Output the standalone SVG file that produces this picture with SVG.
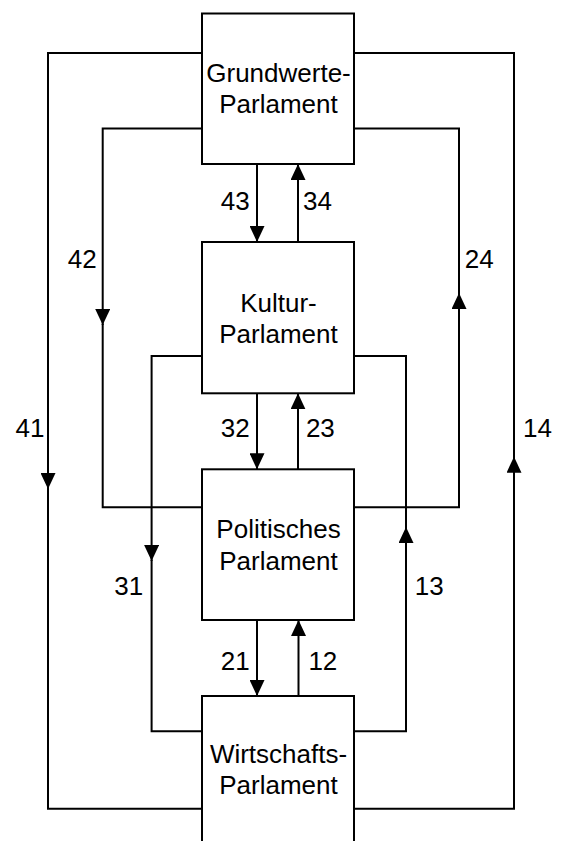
<svg xmlns="http://www.w3.org/2000/svg" width="563" height="841" viewBox="0 0 563 841">
<style>
.box{fill:#fff;stroke:#000;stroke-width:2}
.ln{fill:none;stroke:#000;stroke-width:2}
.t{font-family:"Liberation Sans",Arial,sans-serif;font-size:26px;fill:#000}
.c{text-anchor:middle}
</style>
<defs>
<marker id="ah" viewBox="0 0 16 15" refX="16" refY="7.5" markerWidth="16" markerHeight="15" markerUnits="userSpaceOnUse" orient="auto">
<path d="M0,0 L16,7.5 L0,15 Z" fill="#000"/>
</marker>
</defs>
<g id="connectors">
<!-- 41 -->
<path class="ln" d="M202 53 H48 V489" marker-end="url(#ah)"/>
<path class="ln" d="M48 488 V808.7 H202"/>
<!-- 14 -->
<path class="ln" d="M354 808.7 H514 V456.7" marker-end="url(#ah)"/>
<path class="ln" d="M514 458 V53 H354"/>
<!-- 42 -->
<path class="ln" d="M202 128.5 H102.7 V325" marker-end="url(#ah)"/>
<path class="ln" d="M102.7 324 V507.3 H202"/>
<!-- 24 -->
<path class="ln" d="M354 507.3 H459 V293" marker-end="url(#ah)"/>
<path class="ln" d="M459 294 V128.5 H354"/>
<!-- 31 -->
<path class="ln" d="M202 356 H151.6 V561" marker-end="url(#ah)"/>
<path class="ln" d="M151.6 560 V731.3 H202"/>
<!-- 13 -->
<path class="ln" d="M354 731.3 H406 V527" marker-end="url(#ah)"/>
<path class="ln" d="M406 528 V356 H354"/>
<!-- 43 / 34 -->
<path class="ln" d="M257 164 V242" marker-end="url(#ah)"/>
<path class="ln" d="M298 242 V164" marker-end="url(#ah)"/>
<!-- 32 / 23 -->
<path class="ln" d="M257 393.3 V469.3" marker-end="url(#ah)"/>
<path class="ln" d="M298 469.3 V393.3" marker-end="url(#ah)"/>
<!-- 21 / 12 -->
<path class="ln" d="M257 620 V696" marker-end="url(#ah)"/>
<path class="ln" d="M298.5 696 V620" marker-end="url(#ah)"/>
<text class="t" x="220.7" y="209.5">43</text>
<text class="t" x="303" y="209.5">34</text>
<text class="t" x="67.8" y="268">42</text>
<text class="t" x="464.8" y="268">24</text>
<text class="t" x="220.7" y="437">32</text>
<text class="t" x="305.9" y="437">23</text>
<text class="t" x="15.5" y="437">41</text>
<text class="t" x="523" y="437">14</text>
<text class="t" x="114.3" y="595">31</text>
<text class="t" x="414.7" y="595">13</text>
<text class="t" x="220.7" y="670">21</text>
<text class="t" x="308.4" y="670">12</text>
</g>
<g id="grundwerte">
<rect class="box" x="202" y="13.5" width="152" height="150.5"/>
<text class="t c" x="278.5" y="81.7">Grundwerte-</text>
<text class="t c" x="278.5" y="113.3">Parlament</text>
</g>
<g id="kultur">
<rect class="box" x="202" y="242" width="152" height="151.3"/>
<text class="t c" x="278.5" y="311.7">Kultur-</text>
<text class="t c" x="278.5" y="343">Parlament</text>
</g>
<g id="politisch">
<rect class="box" x="202" y="469.3" width="152" height="150.7"/>
<text class="t c" x="278.5" y="537.7">Politisches</text>
<text class="t c" x="278.5" y="569.5">Parlament</text>
</g>
<g id="wirtschaft">
<rect class="box" x="202" y="696" width="152" height="160"/>
<text class="t c" x="278.5" y="763.3">Wirtschafts-</text>
<text class="t c" x="278.5" y="794.3">Parlament</text>
</g>
</svg>
